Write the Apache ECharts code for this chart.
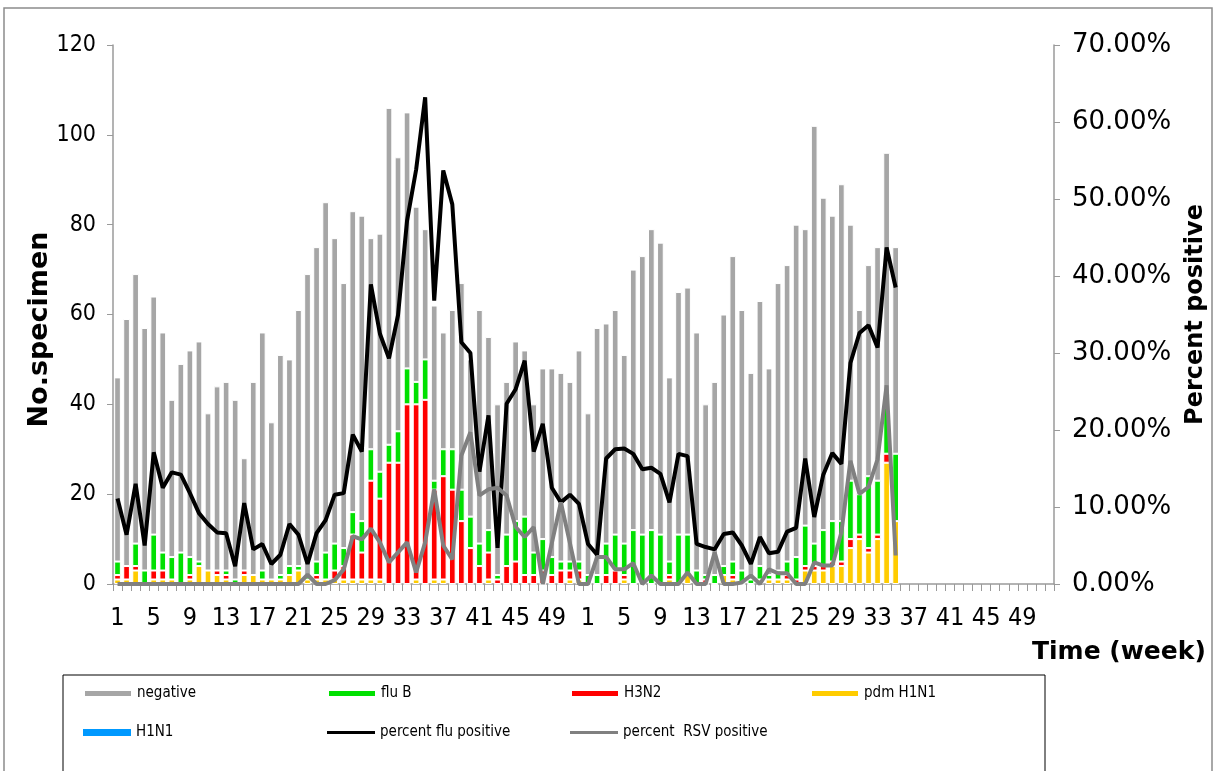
<!DOCTYPE html>
<html>
<head>
<meta charset="utf-8">
<script src="https://cdn.jsdelivr.net/npm/echarts@6/dist/echarts.min.js"></script>
<style>
html,body{margin:0;padding:0;background:#fff;}
#chart{width:1216px;height:771px;}
</style>
</head>
<body>
<div id="chart"></div>
<script>
// ---- categories: two seasons of 52 weeks ----
const weeks = [];
for (let y = 0; y < 2; y++) { for (let w = 1; w <= 52; w++) weeks.push(String(w)); }

// ---- bar values (No. specimen), weeks with data then nulls ----
const pdmH1N1 = [1,1,3,0,1,1,1,0,1,4,3,2,1,0,2,2,1,1,1,2,3,1,1,1,1,1,1,1,1,1,0,0,0,1,0,1,1,0,0,0,0,1,0,0,0,0,0,0,0,0,1,1,
  0,0,0,0,1,0,0,0,0,1,0,2,0,0,0,2,1,0,0,1,1,1,1,0,3,3,3,4,4,8,10,7,10,27,14,
  null,null,null,null,null,null,null,null,null,null,null,null,null,null,null,null,null];
const h3n2 = [1,3,1,0,2,2,0,0,1,0,0,1,1,0,1,0,0,0,0,0,0,0,1,0,2,3,10,6,22,18,27,27,40,39,41,20,23,21,14,8,4,6,1,4,5,2,2,3,2,3,2,2,
  0,0,2,3,1,0,0,0,0,1,0,0,0,1,0,0,1,0,0,0,0,0,1,1,1,1,1,1,1,2,1,1,1,2,0,
  null,null,null,null,null,null,null,null,null,null,null,null,null,null,null,null,null];
const fluB = [3,0,5,3,8,4,5,7,4,1,0,0,1,1,0,0,2,0,1,2,1,1,3,6,6,4,5,7,7,6,4,7,8,5,9,2,6,9,7,7,5,5,1,7,9,13,5,7,4,2,2,2,
  2,2,7,8,7,12,11,12,11,3,11,9,3,1,2,2,3,3,1,3,1,2,3,5,9,5,8,9,9,13,9,16,12,13,15,
  null,null,null,null,null,null,null,null,null,null,null,null,null,null,null,null,null];
const h1n1 = [0,0,0,0,0,0,0,0,0,0,0,0,0,0,0,0,0,0,0,0,0,0,0,0,0,0,0,0,0,0,0,0,0,0,0,0,0,0,0,0,0,0,0,0,0,0,0,0,0,0,0,0,
  0,0,0,0,0,0,0,0,0,0,0,0,0,0,0,0,0,0,0,0,0,0,0,0,0,0,0,0,0,0,0,0,0,0,0,
  null,null,null,null,null,null,null,null,null,null,null,null,null,null,null,null,null];
const negative = [41,55,60,54,53,49,35,42,46,49,35,41,42,40,25,43,53,35,49,46,57,67,70,78,68,59,67,68,47,53,75,61,57,39,29,39,26,31,46,35,52,43,38,34,40,37,33,38,42,42,40,47,
  36,55,49,50,42,58,62,67,65,41,54,55,53,38,43,56,68,58,46,59,46,64,66,74,66,93,74,68,75,57,41,47,52,54,46,
  null,null,null,null,null,null,null,null,null,null,null,null,null,null,null,null,null];

// ---- line values (percent, right axis) ----
const pctFlu = [11.1,6.4,13.0,5.0,17.1,12.5,14.5,14.2,11.8,9.2,7.8,6.7,6.6,2.3,10.5,4.5,5.2,2.6,3.8,7.8,6.4,2.6,6.6,8.3,11.6,11.8,19.4,17.2,38.9,32.5,29.3,34.9,47.2,53.8,63.2,36.8,53.7,49.3,31.4,30.0,14.6,21.9,4.7,23.4,25.3,29.0,17.2,20.8,12.5,10.6,11.6,10.4,
  5.2,3.8,16.3,17.5,17.6,16.9,14.9,15.1,14.3,10.6,16.9,16.6,5.2,4.8,4.5,6.5,6.7,5.0,2.6,6.1,4.0,4.2,6.8,7.3,16.3,8.7,14.2,17.0,15.6,28.7,32.6,33.6,30.7,43.7,38.5,
  null,null,null,null,null,null,null,null,null,null,null,null,null,null,null,null,null];
const pctRSV = [0,0,0,0,0,0,0,0,0,0,0,0,0,0,0,0,0,0,0,0,0,1.2,0,0,0.5,1.9,6.2,5.8,7.2,5.4,2.8,4.1,5.4,1.5,5.4,12.3,5.0,3.2,16.7,19.7,11.5,12.3,12.5,11.5,7.4,6.1,7.4,0,5.3,10.6,5.3,0,
  0,3.5,3.5,1.9,1.9,2.7,0,1.1,0,0,0,1.5,0,0,4.1,0,0,0.2,1.1,0,1.9,1.4,1.4,0,0,2.8,2.4,2.4,6.7,16.0,11.7,12.6,16.2,25.8,3.7,
  null,null,null,null,null,null,null,null,null,null,null,null,null,null,null,null,null];

// ---- axis ticks ----
const leftTicks = {min: 0, max: 120, interval: 20};
const rightTicks = {min: 0, max: 70, interval: 10};

const FONT = 'DejaVu Sans';
const CONDENSED = 'DejaVu Sans Condensed';
const C = {neg:'#a6a6a6', fluB:'#00e000', h3:'#ff0000', pdm:'#ffcc00', h1:'#0099ff', flu:'#000000', rsv:'#808080'};

const chart = echarts.init(document.getElementById('chart'), null, {renderer:'canvas'});

function bar(name, data, color, bw) {
  return {name, type:'bar', stack:'spec', data, barCategoryGap:'26%',
    itemStyle:{color, borderColor:'#ffffff', borderWidth: bw}, emphasis:{disabled:true}};
}
function leg(name, left, top, icon, h) {
  return {data:[{name, icon}], left, top, itemWidth:48, itemHeight:h, itemGap:0,
    textStyle:{fontFamily:CONDENSED, fontSize:15, color:'#000', padding:[0,0,0,0]}, selectedMode:false};
}

chart.setOption({
  animation:false,
  backgroundColor:'#ffffff',
  graphic:[
    {type:'rect', shape:{x:4, y:8, width:1208, height:790}, style:{fill:'none', stroke:'#8c8c8c', lineWidth:1.5}, silent:true},
    {type:'rect', shape:{x:63, y:675, width:982, height:100}, style:{fill:'none', stroke:'#000', lineWidth:1}, silent:true},
    {type:'text', left:1032, top:640, style:{text:'Time (week)', fontFamily:FONT, fontWeight:'bold', fontSize:25, fill:'#000'}}
  ],
  legend:[
    leg('negative', 78, 681, 'rect', 7),
    leg('flu B', 322, 681, 'rect', 7),
    leg('H3N2', 565, 681, 'rect', 7),
    leg('pdm H1N1', 805, 681, 'rect', 7),
    leg('H1N1', 78, 720, 'rect', 7),
    leg('percent flu positive', 322, 720, 'rect', 3),
    leg('percent  RSV positive', 565, 720, 'rect', 3)
  ],
  grid:{left:113, right:151, top:45, bottom:187},
  xAxis:{type:'category', data:weeks,
    axisLine:{lineStyle:{color:'#9a9a9a', width:1.5}},
    axisTick:{show:true, interval:0, length:7, lineStyle:{color:'#9a9a9a'}},
    axisLabel:{interval:3, fontFamily:CONDENSED, fontSize:25, color:'#000', margin:22}},
  yAxis:[
    {type:'value', min:leftTicks.min, max:leftTicks.max, interval:leftTicks.interval, name:'No.specimen',
      nameLocation:'middle', nameGap:60, nameRotate:90, nameMoveOverlap:false,
      nameTextStyle:{fontFamily:FONT, fontWeight:'bold', fontSize:27, color:'#000', padding:[0,30,0,0]},
      axisLine:{show:true, lineStyle:{color:'#9a9a9a', width:1.5}},
      axisTick:{show:true, length:6, lineStyle:{color:'#9a9a9a'}},
      splitLine:{show:false},
      axisLabel:{fontFamily:CONDENSED, fontSize:23, color:'#000', margin:17}},
    {type:'value', position:'right', min:rightTicks.min, max:rightTicks.max, interval:rightTicks.interval, name:'Percent positive',
      nameLocation:'middle', nameGap:130, nameRotate:90, nameMoveOverlap:false,
      nameTextStyle:{fontFamily:FONT, fontWeight:'bold', fontSize:24, color:'#000'},
      axisLine:{show:true, lineStyle:{color:'#9a9a9a', width:1.5}},
      axisTick:{show:true, length:6, lineStyle:{color:'#9a9a9a'}},
      splitLine:{show:false},
      axisLabel:{fontFamily:FONT, fontSize:26, color:'#000', margin:18, formatter:v => v.toFixed(2) + '%'}}
  ],
  series:[
    bar('pdm H1N1', pdmH1N1, C.pdm, 1),
    bar('H3N2', h3n2, C.h3, 1),
    bar('flu B', fluB, C.fluB, 1),
    bar('H1N1', h1n1, C.h1, 0),
    bar('negative', negative, C.neg, 1),
    {name:'percent flu positive', type:'line', yAxisIndex:1, data:pctFlu, symbol:'none', connectNulls:false,
      lineStyle:{color:C.flu, width:4}, itemStyle:{color:C.flu}, z:5},
    {name:'percent  RSV positive', type:'line', yAxisIndex:1, data:pctRSV, symbol:'none', connectNulls:false,
      lineStyle:{color:C.rsv, width:4}, itemStyle:{color:C.rsv}, z:6}
  ]
});
</script>
</body>
</html>
